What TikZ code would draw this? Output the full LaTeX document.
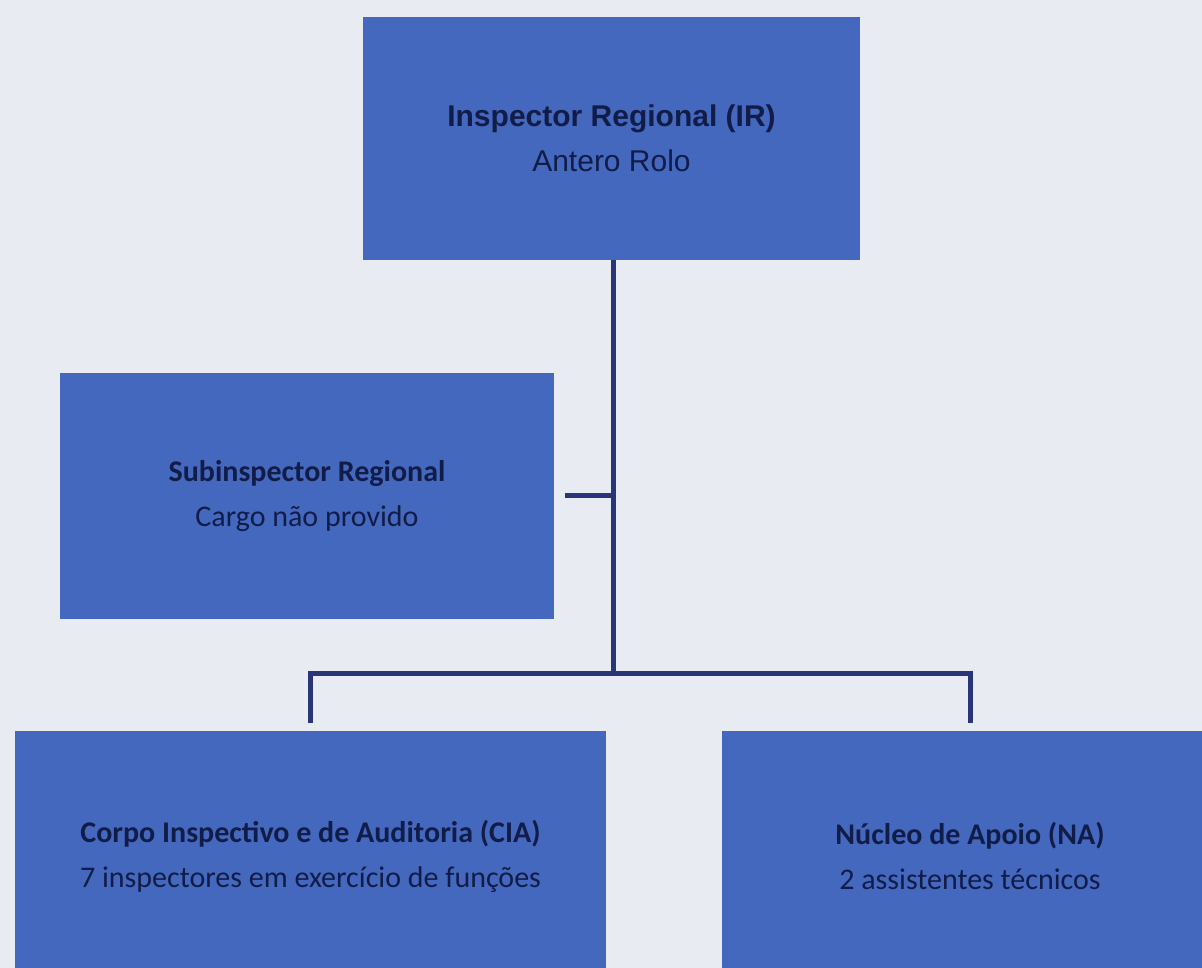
\documentclass[tikz,border=0pt]{standalone}
\usepackage{fontspec}
\setmainfont{Carlito}
\newfontfamily\arialfont{Liberation Sans}
\definecolor{bgc}{RGB}{233,235,242}
\definecolor{boxc}{RGB}{67,104,190}
\definecolor{txtc}{RGB}{18,28,72}
\definecolor{linec}{RGB}{42,52,120}
\begin{document}
\begin{tikzpicture}[x=1pt,y=-1pt,
  orgbox/.style={fill=boxc,draw=none,inner sep=0pt,align=center,text=txtc,
    font=\fontsize{30}{45}\selectfont},
  conn/.style={draw=linec,line width=5pt,line cap=butt}]
\useasboundingbox (0,0) rectangle (1202,968);
\fill[bgc] (0,0) rectangle (1202,968);
\begin{scope}
\clip (0,0) rectangle (1202,968);
\node[orgbox,minimum width=497pt,minimum height=243pt,font=\arialfont\fontsize{30}{45}\selectfont] (ir) at (611.5,138.5)
  {\textbf{Inspector Regional (IR)}\\Antero Rolo};
\node[orgbox,minimum width=494pt,minimum height=246pt] (sub) at (307,496)
  {\textbf{Subinspector Regional}\\Cargo não provido};
\node[orgbox,minimum width=591pt,minimum height=250pt] (cia) at (310.5,856)
  {\textbf{Corpo Inspectivo e de Auditoria (CIA)}\\7 inspectores em exercício de funções};
\node[orgbox,minimum width=496pt,minimum height=250pt] (na) at (970,856)
  {\textbf{Núcleo de Apoio (NA)}\\2 assistentes técnicos};
\end{scope}
\coordinate (j) at (613,673);
\coordinate (s) at (565,495);
\coordinate (sj) at (613,495);
\coordinate (lj) at (310,673);
\coordinate (rj) at (970,673);
\coordinate (le) at (310,723);
\coordinate (re) at (970,723);
\draw[conn] (ir.south -| j) -- ([yshift=2.5pt]j);
\draw[conn] (s) -- (sj);
\draw[conn,line join=miter] (le) -- (lj) -- (rj) -- (re);
\end{tikzpicture}
\end{document}
